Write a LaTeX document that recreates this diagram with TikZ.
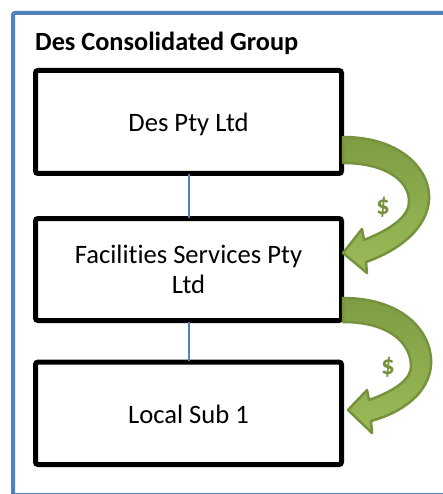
\documentclass[tikz,border=0pt]{standalone}
\usepackage{fontspec}
\setmainfont{Carlito}[Ligatures=NoCommon]
\definecolor{frameblue}{HTML}{4F81BD}
\definecolor{olivedark}{HTML}{76923C}
\definecolor{olivefill}{HTML}{7E9D43}
\definecolor{olivelight}{HTML}{9BBB59}
\tikzset{
  orgbox/.style={draw=black, fill=white, line width=5pt, rounded corners=2.5pt,
    minimum width=306pt, minimum height=103pt, inner sep=0pt, outer sep=0pt,
    font=\fontsize{26.6}{30}\selectfont, align=center},
  oneline/.style={text height=20pt, text depth=0pt},
  conn/.style={draw=frameblue, line width=2pt},
  cashflow/.style={draw=olivedark, line width=2.5pt, line join=round,
    top color=olivefill, bottom color=olivelight},
  dollar/.style={text=olivedark, font=\fontsize{27}{30}\selectfont\bfseries, inner sep=0pt}
}
\begin{document}
\begin{tikzpicture}[x=1pt,y=-1pt]
\useasboundingbox (0,0) rectangle (443,494);
\begin{scope}
  \clip (0,0) rectangle (443,494);
  \draw[frameblue, line width=4pt, rounded corners=2pt] (13,13) rectangle (480,495);
\end{scope}
\node[anchor=base west, inner sep=0pt, font=\fontsize{26.3}{30}\selectfont\bfseries] (title) at (35,50.5) {Des Consolidated Group};
\node[orgbox, oneline] (des) at (188.5,122) {Des Pty Ltd};
\node[orgbox, minimum height=102pt] (fac) at (188.5,269.5) {Facilities Services Pty\\Ltd};
\node[orgbox, oneline, minimum height=102.5pt] (sub) at (188.5,413.3) {Local Sub 1};
\draw[conn, shorten <=1pt, shorten >=1pt] (des.south) -- (fac.north);
\draw[conn, shorten <=1pt, shorten >=1pt] (fac.south) -- (sub.north);
% cash flow arrows
\shadedraw[cashflow] (343,137) .. controls (401,137) and (431,170) .. (429,200)
  .. controls (427,228) and (400,250) .. (366,262) -- (367,273) -- (343,253)
  -- (362,229) -- (364,240) .. controls (394,228) and (410,215) .. (409,200)
  .. controls (408,180) and (385,163) .. (343,163) -- cycle;
\shadedraw[cashflow] (343,298) .. controls (403,298) and (433,332) .. (431,365)
  .. controls (429,392) and (404,412) .. (371,421) -- (372,433) -- (348,410)
  -- (367,390) -- (369,400) .. controls (397,390) and (412,378) .. (411,365)
  .. controls (410,342) and (388,322) .. (343,322) -- cycle;
\node[dollar] (d1) at (383,207) {\$};
\node[dollar] (d2) at (388,367) {\$};
\end{tikzpicture}
\end{document}
